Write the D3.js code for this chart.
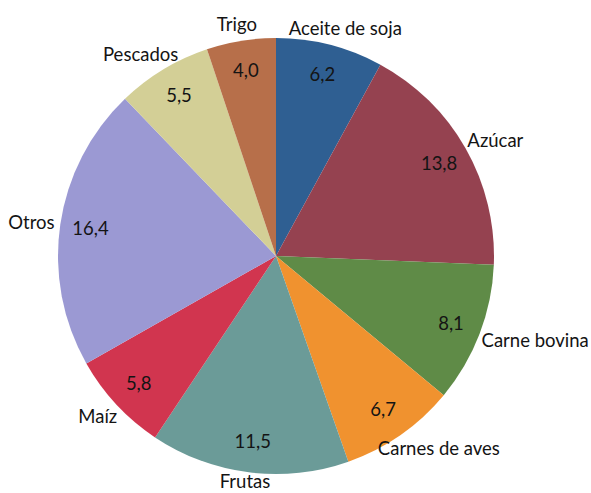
<!DOCTYPE html>
<html>
<head>
<meta charset="utf-8">
<script src="https://cdn.jsdelivr.net/npm/d3@7"></script>
<style>
  body { margin: 0; background: #fff; }
</style>
</head>
<body>
<div id="wrapper"></div>
<script>
const categories = ["Aceite de soja", "Azúcar", "Carne bovina", "Carnes de aves", "Frutas", "Maíz", "Otros", "Pescados", "Trigo"];
const values = [6.2, 13.8, 8.1, 6.7, 11.5, 5.8, 16.4, 5.5, 4.0];
const colors = ["#2f5f92", "#954250", "#5f8b47", "#f0922f", "#6b9b98", "#d1354f", "#9b99d3", "#d3cf96", "#b76f4a"];

function drawPie() {
  const width = 591;
  const height = 493;
  const cx = 276;
  const cy = 256;
  const radius = 218;

  const dataset = categories.map((c, i) => ({ name: c, value: values[i], color: colors[i] }));

  const svg = d3.select("#wrapper")
    .append("svg")
    .attr("width", width)
    .attr("height", height);

  const bounds = svg.append("g")
    .attr("transform", `translate(${cx},${cy})`);

  const pie = d3.pie()
    .sort(null)
    .value(d => d.value);

  const arc = d3.arc()
    .innerRadius(0)
    .outerRadius(radius);

  const arcs = pie(dataset);

  bounds.selectAll("path")
    .data(arcs)
    .enter()
    .append("path")
    .attr("d", arc)
    .attr("fill", d => d.data.color);

  const fmt = v => d3.format(".1f")(v).replace(".", ",");
  const font = "Lato, 'Open Sans', sans-serif";

  // value labels inside the slices
  const valueR = radius * 0.86;
  bounds.selectAll(".value")
    .data(arcs)
    .enter()
    .append("text")
    .attr("class", "value")
    .attr("x", d => valueR * Math.sin((d.startAngle + d.endAngle) / 2))
    .attr("y", d => -valueR * Math.cos((d.startAngle + d.endAngle) / 2))
    .attr("dy", "0.35em")
    .attr("text-anchor", "middle")
    .style("font-family", font)
    .style("font-size", "18.5px")
    .attr("fill", "#141414")
    .text(d => fmt(d.data.value));

  // category labels outside, box pushed away from the point on the rim
  const nameR = radius + 6;
  const names = bounds.selectAll(".name")
    .data(arcs)
    .enter()
    .append("text")
    .attr("class", "name")
    .attr("text-anchor", "middle")
    .attr("dy", "0.35em")
    .style("font-family", font)
    .style("font-size", "18.5px")
    .attr("fill", "#141414")
    .text(d => d.data.name);

  names.each(function(d) {
    const a = (d.startAngle + d.endAngle) / 2;
    const box = this.getBBox();
    const px = nameR * Math.sin(a);
    const py = -nameR * Math.cos(a);
    let x = px + Math.sin(a) * box.width / 2;
    let y = py - Math.cos(a) * box.height / 2;
    // keep the label inside the picture
    x = Math.min(x, width - cx - box.width / 2 - 1);
    y = Math.min(y, height - cy - box.height / 2);
    d3.select(this)
      .attr("x", x)
      .attr("y", y);
  });
}

drawPie();
</script>
</body>
</html>
